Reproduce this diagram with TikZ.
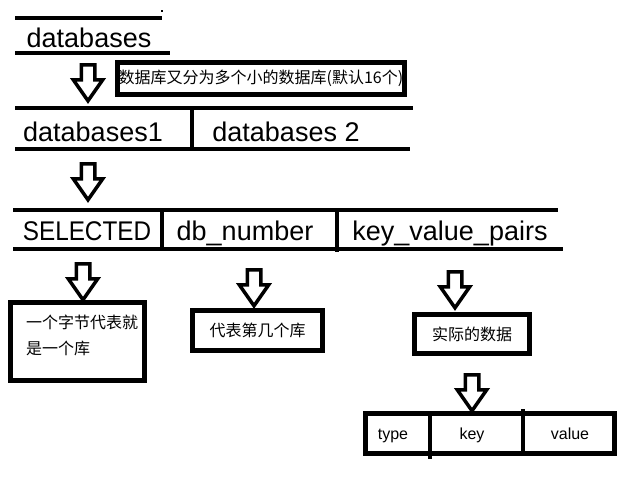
\documentclass[tikz,border=0pt]{standalone}
\usepackage{fontspec}
\setmainfont{Liberation Sans}
\newfontfamily\cjk{Noto Sans CJK SC}
\usetikzlibrary{shapes.arrows}

\tikzset{
  rule/.style={line width=4pt},
  framebox/.style={draw, rectangle, line width=5pt, inner sep=0pt},
  downarrow/.style={single arrow, draw, fill=white, line width=3.5pt, rotate=-90,
    minimum height=36pt, inner sep=5pt, single arrow head extend=8pt,
    single arrow tip angle=70},
  bigtext/.style={font=\fontsize{27}{32}\selectfont, inner sep=0pt, anchor=base},
  cjktext/.style={font=\cjk\fontsize{16}{26}\selectfont, inner sep=0pt},
  smalltext/.style={font=\fontsize{16}{20}\selectfont, inner sep=0pt, anchor=base}
}

\begin{document}
\begin{tikzpicture}[x=1pt, y=-1pt]
        \useasboundingbox (0,0) rectangle (635,488);

        % Nodes
        \node (databases) [bigtext] at (89,47) {databases};
        \node (split) [framebox, cjktext, minimum width=287pt, minimum height=32pt] at (261,78.5) {数据库又分为多个小的数据库(默认16个)};
        \node (db1) [bigtext] at (93,141) {databases1};
        \node (db2) [bigtext] at (286,141) {databases 2};
        \node (selected) [bigtext] at (87,240) {\scalebox{0.9}[1]{SELECTED}};
        \node (dbnumber) [bigtext] at (245,240) {db\_number};
        \node (kvpairs) [bigtext] at (450,240) {key\_value\_pairs};

        \node (bytebox) [framebox, minimum width=134pt, minimum height=78pt] at (77.5,341.5) {};
        \node (bytetext) [cjktext, anchor=west, align=left] at (26,335) {一个字节代表就\\是一个库};
        \node (whichdb) [framebox, cjktext, minimum width=130pt, minimum height=40pt] at (257.5,330.5) {代表第几个库};
        \node (realdata) [framebox, cjktext, minimum width=115pt, minimum height=39pt] at (472,334) {实际的数据};
        \node (entry) [framebox, minimum width=249pt, minimum height=40pt] at (490,433.5) {};
        \node (type) [smalltext] at (393,439) {type};
        \node (key) [smalltext] at (472,439) {key};
        \node (value) [smalltext] at (570,439) {value};

        % Arrows
        \node (a1) [downarrow] at (88,78) {};
        \node (a2) [downarrow] at (88,177) {};
        \node (a3) [downarrow] at (83,277) {};
        \node (a4) [downarrow] at (254,283) {};
        \node (a5) [downarrow] at (455,285) {};
        \node (a6) [downarrow] at (472,388) {};

        % Rules
        \draw[rule] (15,18) -- (162,18);
        \draw[line width=1.5pt] (161,11) -- (163,11);
        \draw[rule] (15,53) -- (170,53);
        \draw[rule] (15,108) -- (413,108);
        \draw[rule] (15,149) -- (410,149);
        \draw[rule] (192,106) -- (192,150);
        \draw[rule] (13,210) -- (558,210);
        \draw[rule] (13,249) -- (563,249);
        \draw[rule] (162,210) -- (162,250);
        \draw[rule] (337,210) -- (337,252);
        \draw[rule] (430,411) -- (430,459);
        \draw[rule] (523,409) -- (523,456);
    \end{tikzpicture}
\end{document}
